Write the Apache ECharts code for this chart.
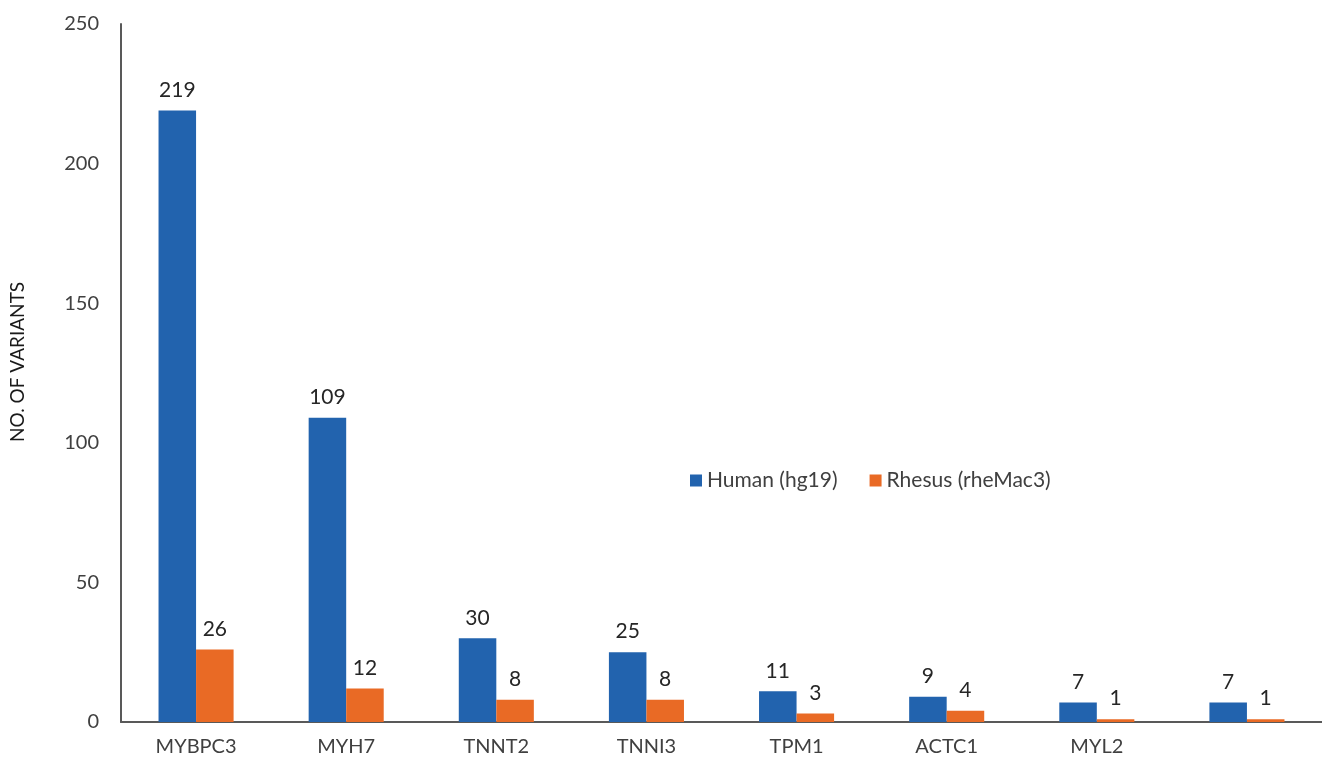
<!DOCTYPE html>
<html>
<head>
<meta charset="utf-8">
<script src="https://cdn.jsdelivr.net/npm/echarts@6/dist/echarts.min.js"></script>
<style>html,body{margin:0;padding:0;background:#fff;}#c{width:1322px;height:759px;}</style>
</head>
<body>
<div id="c"></div>
<script>
const categories = ['MYBPC3', 'MYH7', 'TNNT2', 'TNNI3', 'TPM1', 'ACTC1', 'MYL2', ''];
const human = [219, 109, 30, 25, 11, 9, 7, 7];
const rhesus = [26, 12, 8, 8, 3, 4, 1, 1];
const seriesNames = ['Human (hg19)', 'Rhesus (rheMac3)'];
const yTicks = { min: 0, max: 250, interval: 50 };

const font = 'Lato, "Open Sans", sans-serif';
const chart = echarts.init(document.getElementById('c'), null, { renderer: 'canvas' });
const labelStyle = { show: true, position: 'top', distance: 10, color: '#262626', fontSize: 21, fontFamily: font };
chart.setOption({
  animation: false,
  textStyle: { fontFamily: font },
  legend: {
    left: 685, top: 465, itemWidth: 12, itemHeight: 12, itemGap: 32, icon: 'rect',
    textStyle: { fontSize: 21, color: '#404040', fontFamily: font },
    data: seriesNames
  },
  grid: { left: 120, right: 0, top: 24, bottom: 37, containLabel: false },
  xAxis: {
    type: 'category', data: categories,
    axisLine: { lineStyle: { color: '#595959', width: 2 } },
    axisTick: { show: false },
    axisLabel: { color: '#404040', fontSize: 20, margin: 15, fontFamily: font }
  },
  yAxis: {
    type: 'value', min: yTicks.min, max: yTicks.max, interval: yTicks.interval,
    name: 'NO. OF VARIANTS', nameLocation: 'middle', nameGap: 94, nameRotate: 90,
    nameTextStyle: { fontSize: 19, color: '#1a1a1a', fontFamily: font, padding: [0, 0, 0, 22] },
    axisLine: { show: true, lineStyle: { color: '#595959', width: 2 } },
    axisTick: { show: false },
    splitLine: { show: false },
    axisLabel: { color: '#404040', fontSize: 20, margin: 22, fontFamily: font }
  },
  series: [
    { name: seriesNames[0], type: 'bar', data: human, barWidth: '25%', barGap: '0%',
      itemStyle: { color: '#2263AE' }, label: labelStyle },
    { name: seriesNames[1], type: 'bar', data: rhesus, barWidth: '25%', barGap: '0%',
      itemStyle: { color: '#E96A25' }, label: labelStyle }
  ]
});
</script>
</body>
</html>
